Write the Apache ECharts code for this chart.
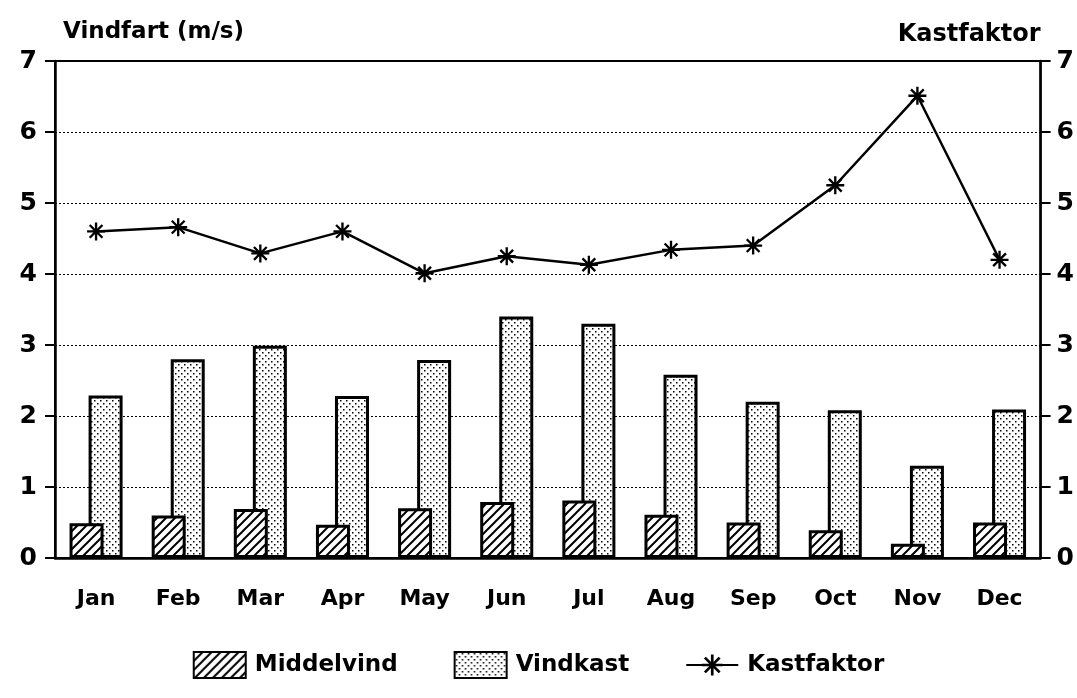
<!DOCTYPE html>
<html><head><meta charset="utf-8">
<script src="https://cdn.jsdelivr.net/npm/echarts@6/dist/echarts.min.js"></script>
<style>html,body{margin:0;padding:0;background:#fff}#c{width:1077px;height:698px}</style>
</head><body><div id="c"></div>
<script>
var months = ['Jan','Feb','Mar','Apr','May','Jun','Jul','Aug','Sep','Oct','Nov','Dec'];
var middelvind = [0.49, 0.60, 0.69, 0.47, 0.70, 0.79, 0.81, 0.61, 0.50, 0.39, 0.20, 0.50];
var vindkast   = [2.29, 2.80, 2.99, 2.28, 2.79, 3.40, 3.30, 2.58, 2.20, 2.08, 1.30, 2.09];
var kastfaktor = [4.60, 4.66, 4.29, 4.60, 4.01, 4.25, 4.13, 4.34, 4.40, 5.25, 6.51, 4.20];
var yTicks = [0,1,2,3,4,5,6,7];

function hatch(){
  var s=9,c=document.createElement('canvas');c.width=s;c.height=s;
  var g=c.getContext('2d');g.fillStyle='#fff';g.fillRect(0,0,s,s);
  g.strokeStyle='#000';g.lineWidth=2;
  g.beginPath();g.moveTo(-1,s+1);g.lineTo(s+1,-1);
  g.moveTo(-1,1);g.lineTo(1,-1);g.moveTo(s-1,s+1);g.lineTo(s+1,s-1);g.stroke();
  return c;
}
function dots(){
  var s=6,c=document.createElement('canvas');c.width=s;c.height=s;
  var g=c.getContext('2d');g.fillStyle='#fff';g.fillRect(0,0,s,s);
  g.fillStyle='#000';g.fillRect(1,1,1.5,1.5);g.fillRect(4,4,1.5,1.5);
  return c;
}
var star='path://M8.7 0L11.3 0L11.3 20L8.7 20Z M0 8.7L20 8.7L20 11.3L0 11.3Z M3.82 1.98L18.02 16.18L16.18 18.02L1.98 3.82Z M18.02 3.82L3.82 18.02L1.98 16.18L16.18 1.98Z';
var F='"DejaVu Sans", "Liberation Sans", Arial, sans-serif';
var chart=echarts.init(document.getElementById('c'),null,{renderer:'canvas'});
chart.setOption({
  animation:false,
  backgroundColor:'#fff',
  grid:{left:55,right:35,top:61,bottom:140,show:true,borderColor:'#000',borderWidth:2,backgroundColor:'transparent'},
  legend:{
    bottom:14,left:'center',itemWidth:52,itemHeight:26,itemGap:56,
    textStyle:{fontFamily:F,fontWeight:'bold',fontSize:23,color:'#000',padding:[0,0,0,4]},
    data:[{name:'Middelvind',icon:'rect'},{name:'Vindkast',icon:'rect'},{name:'Kastfaktor'}]
  },
  xAxis:{
    type:'category',data:months,
    axisLine:{lineStyle:{color:'#000',width:2.5}},
    axisTick:{alignWithLabel:true,length:10,lineStyle:{color:'#000',width:2}},
    axisLabel:{margin:30,fontFamily:F,fontWeight:'bold',fontSize:22,color:'#000'}
  },
  yAxis:[{
    type:'value',min:0,max:7,interval:1,
    name:'Vindfart (m/s)',nameLocation:'end',nameGap:17,
    nameTextStyle:{align:'left',fontFamily:F,fontWeight:'bold',fontSize:23,color:'#000',padding:[0,0,0,8]},
    axisLine:{show:true,lineStyle:{color:'#000',width:2.5}},
    axisTick:{show:true,length:10,lineStyle:{color:'#000',width:2}},
    axisLabel:{margin:18,fontFamily:F,fontWeight:'bold',fontSize:25,color:'#000',
      formatter:function(v){return yTicks.indexOf(v)>=0?String(v):'';}},
    splitLine:{show:true,lineStyle:{color:'#000',width:1,type:[2,2]}}
  },{
    type:'value',min:0,max:7,interval:1,position:'right',
    name:'Kastfaktor',nameLocation:'end',nameGap:14,
    nameTextStyle:{align:'right',fontFamily:F,fontWeight:'bold',fontSize:24,color:'#000'},
    axisLine:{show:true,lineStyle:{color:'#000',width:2.5}},
    axisTick:{show:true,length:10,lineStyle:{color:'#000',width:2}},
    axisLabel:{margin:16,fontFamily:F,fontWeight:'bold',fontSize:25,color:'#000'},
    splitLine:{show:false}
  }],
  series:[{
    name:'Middelvind',type:'bar',data:middelvind,barWidth:34,barGap:'-44%',z:3,
    itemStyle:{color:{image:hatch(),repeat:'repeat'},borderColor:'#000',borderWidth:3}
  },{
    name:'Vindkast',type:'bar',data:vindkast,barWidth:34,z:2,
    itemStyle:{color:{image:dots(),repeat:'repeat'},borderColor:'#000',borderWidth:3}
  },{
    name:'Kastfaktor',type:'line',yAxisIndex:1,data:kastfaktor,z:4,
    symbol:star,symbolSize:18,
    lineStyle:{color:'#000',width:2.5},itemStyle:{color:'#000'}
  }]
});
</script></body></html>
